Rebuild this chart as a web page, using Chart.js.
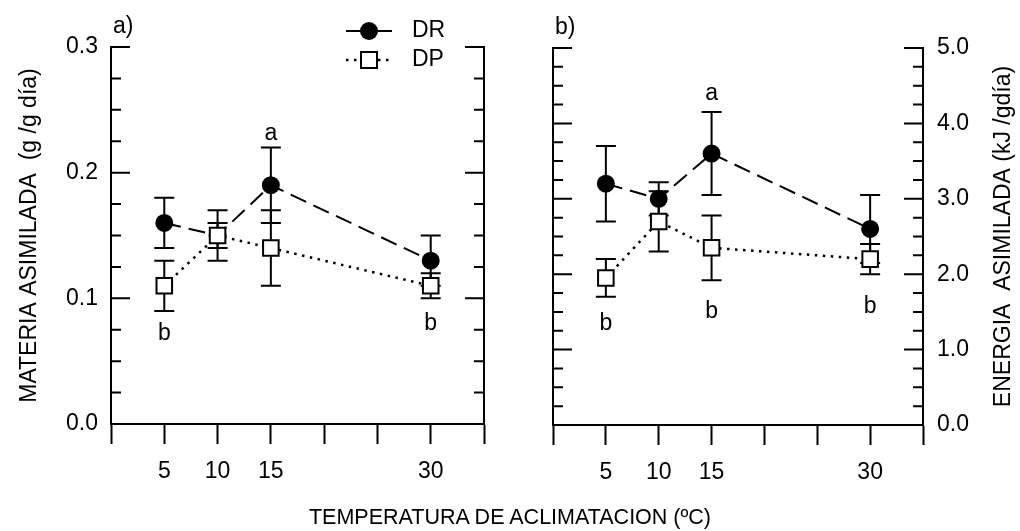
<!DOCTYPE html>
<html><head><meta charset="utf-8">
<script src="https://cdn.jsdelivr.net/npm/chart.js@4.4.1/dist/chart.umd.min.js"></script>
<style>
html,body{margin:0;padding:0;background:#fff;}
#wrap{position:relative;width:1020px;height:531px;overflow:hidden;background:#fff;}
#ca{position:absolute;left:0;top:0;}
#cb{position:absolute;left:500px;top:0;}
#xt{position:absolute;left:0;top:507px;width:1020px;text-align:center;font-family:"Liberation Sans",Arial,sans-serif;font-size:21.5px;line-height:21px;color:#000;}
</style></head><body>
<div id="wrap">
<canvas id="ca" width="520" height="531"></canvas>
<canvas id="cb" width="520" height="531"></canvas>
<div id="xt">TEMPERATURA DE ACLIMATACION (ºC)</div>
</div>
<script>
// ---- data ----
const temps = [5, 10, 15, 30];
const xTickLabels = [5, 10, 15, 30];
const seriesNames = ['DR', 'DP'];

// panel a) materia asimilada (g /g día)
const materiaDR = [0.16, 0.15, 0.19, 0.13];
const materiaDRerr = [0.02, 0.01, 0.03, 0.02];
const materiaDP = [0.11, 0.15, 0.14, 0.11];
const materiaDPerr = [0.02, 0.02, 0.03, 0.01];
const materiaTicks = ['0.0', '0.1', '0.2', '0.3'];
const materiaLetters = [{t: 'a', x: 15, y: 0.231}, {t: 'b', x: 5, y: 0.072}, {t: 'b', x: 30, y: 0.080}];

// panel b) energía asimilada (kJ /gdía)
const energiaDR = [3.2, 3.0, 3.6, 2.6];
const energiaDRerr = [0.5, 0.22, 0.55, 0.45];
const energiaDP = [1.95, 2.7, 2.35, 2.2];
const energiaDPerr = [0.25, 0.4, 0.43, 0.2];
const energiaTicks = ['0.0', '1.0', '2.0', '3.0', '4.0', '5.0'];
const energiaLetters = [{t: 'a', x: 15, y: 4.4}, {t: 'b', x: 5, y: 1.35}, {t: 'b', x: 15, y: 1.5}, {t: 'b', x: 30, y: 1.57}];

// ---- helpers ----
const FONT = '"Liberation Sans", Arial, sans-serif';
const fontSpec = s => ({family: FONT, size: s, lineHeight: 1.2});
function isMajor(v, labels) {
  const s = v.toFixed(1);
  return labels.includes(s) && Math.abs(v - Number(s)) < 1e-6;
}
function majorLabel(labels) {
  return v => isMajor(v, labels) ? v.toFixed(1) : '';
}

const errorBars = {
  id: 'errorBars',
  beforeDatasetsDraw(chart) {
    const ctx = chart.ctx, xs = chart.scales.x, ys = chart.scales.y;
    ctx.save();
    ctx.strokeStyle = '#000';
    ctx.lineWidth = 2;
    chart.data.datasets.forEach(ds => {
      ds.data.forEach((p, i) => {
        const e = ds.errors[i];
        const px = xs.getPixelForValue(p.x);
        const y1 = ys.getPixelForValue(p.y + e), y2 = ys.getPixelForValue(p.y - e);
        ctx.beginPath();
        ctx.moveTo(px, y1); ctx.lineTo(px, y2);
        ctx.moveTo(px - 10, y1); ctx.lineTo(px + 10, y1);
        ctx.moveTo(px - 10, y2); ctx.lineTo(px + 10, y2);
        ctx.stroke();
      });
    });
    ctx.restore();
  }
};

const innerTicks = {
  id: 'innerTicks',
  afterDraw(chart, args, opts) {
    const ctx = chart.ctx, ca = chart.chartArea, s = chart.scales.y;
    ctx.save();
    ctx.strokeStyle = '#000';
    ctx.lineWidth = 2;
    s.ticks.forEach(t => {
      const py = s.getPixelForValue(t.value);
      const len = isMajor(t.value, opts.labels) ? 19 : 10;
      ctx.beginPath();
      ctx.moveTo(ca.left, py); ctx.lineTo(ca.left + len, py);
      ctx.moveTo(ca.right, py); ctx.lineTo(ca.right - len, py);
      ctx.stroke();
    });
    ctx.restore();
  }
};

function drawCircle(ctx, x, y) {
  ctx.beginPath(); ctx.arc(x, y, 9, 0, Math.PI * 2); ctx.fillStyle = '#000'; ctx.fill();
}
function drawSquare(ctx, x, y) {
  ctx.fillStyle = '#fff'; ctx.fillRect(x - 8, y - 8, 16, 16);
  ctx.lineWidth = 2; ctx.strokeStyle = '#000'; ctx.strokeRect(x - 8, y - 8, 16, 16);
}

const annot = {
  id: 'annot',
  afterDatasetsDraw(chart, args, opts) {
    const ctx = chart.ctx, xs = chart.scales.x, ys = chart.scales.y, ca = chart.chartArea;
    ctx.save();
    ctx.fillStyle = '#000';
    ctx.font = '23px ' + FONT;
    ctx.textAlign = 'center';
    ctx.textBaseline = 'middle';
    opts.letters.forEach(l => ctx.fillText(l.t, xs.getPixelForValue(l.x), ys.getPixelForValue(l.y)));
    ctx.textAlign = 'left';
    ctx.fillText(opts.panel, ca.left + 2, ca.top - 20);
    if (opts.legend) {
      const L = opts.legend;
      // DR row
      ctx.strokeStyle = '#000'; ctx.lineWidth = 2; ctx.setLineDash([]);
      ctx.beginPath(); ctx.moveTo(L.x1, L.y1); ctx.lineTo(L.x2, L.y1); ctx.stroke();
      drawCircle(ctx, L.xm, L.y1);
      ctx.fillStyle = '#000';
      ctx.fillText(seriesNames[0], L.xt, L.y1);
      // DP row
      ctx.setLineDash([2.5, 5.5]); ctx.lineWidth = 2.5;
      ctx.beginPath(); ctx.moveTo(L.x1, L.y2); ctx.lineTo(L.x2, L.y2); ctx.stroke();
      ctx.setLineDash([]);
      drawSquare(ctx, L.xm, L.y2);
      ctx.fillStyle = '#000';
      ctx.fillText(seriesNames[1], L.xt, L.y2);
    }
    if (opts.rightTitle) {
      ctx.font = '23px ' + FONT;
      ctx.textAlign = 'center';
      ctx.translate(opts.rightTitle.x, (ca.top + ca.bottom) / 2);
      ctx.rotate(-Math.PI / 2);
      ctx.fillText(opts.rightTitle.text, 0, 0);
    }
    ctx.restore();
  }
};

function makeChart(id, c) {
  const mk = (vals) => temps.map((t, i) => ({x: t, y: vals[i]}));
  return new Chart(document.getElementById(id), {
    type: 'scatter',
    data: {
      datasets: [
        {label: seriesNames[1], data: mk(c.dp), errors: c.dpErr, showLine: true, order: 0, clip: false,
         borderColor: '#000', borderWidth: 2.5, borderDash: [2.5, 5.5], pointStyle: 'rect', pointRadius: 11,
         pointBackgroundColor: '#fff', pointBorderColor: '#000', pointBorderWidth: 2},
        {label: seriesNames[0], data: mk(c.dr), errors: c.drErr, showLine: true, order: 1, clip: false,
         borderColor: '#000', borderWidth: 2, borderDash: [17, 8], pointStyle: 'circle', pointRadius: 8,
         pointBackgroundColor: '#000', pointBorderColor: '#000', pointBorderWidth: 2}
      ]
    },
    options: {
      responsive: false, animation: false, events: [],
      layout: {padding: {top: c.top, left: 0, right: 0, bottom: 0}},
      plugins: {
        legend: {display: false}, tooltip: {enabled: false},
        innerTicks: {labels: c.ticks},
        annot: {letters: c.letters, panel: c.panel, legend: c.legend, rightTitle: c.rightTitle}
      },
      scales: {
        x: {type: 'linear', position: 'bottom', min: 0, max: 35,
            afterFit(s) { s.height = c.xh; },
            ticks: {stepSize: 5, autoSkip: false, maxRotation: 0, padding: 14, color: '#000', font: fontSpec(23),
                    callback: v => xTickLabels.includes(v) ? String(v) : ''},
            grid: {display: true, drawOnChartArea: false, drawTicks: true, tickLength: 20, tickWidth: 2, tickColor: '#000', color: '#000'},
            border: {display: true, color: '#000', width: 2}},
        y: {type: 'linear', position: 'left', min: 0, max: c.ymax,
            afterFit(s) { s.width = c.lw; },
            ticks: {display: c.leftLabels, stepSize: c.step, autoSkip: false, padding: 13, color: '#000', font: fontSpec(23),
                    callback: majorLabel(c.ticks)},
            grid: {display: false, drawTicks: false, tickLength: 0},
            border: {display: true, color: '#000', width: 2},
            title: {display: !!c.leftTitle, text: c.leftTitle || '', color: '#000', font: fontSpec(23), padding: {top: 16, bottom: 0}}},
        yr: {type: 'linear', position: 'right', min: 0, max: c.ymax,
            afterFit(s) { s.width = c.rw; },
            ticks: {display: c.rightLabels, stepSize: c.step, autoSkip: false, padding: 14, color: '#000', font: fontSpec(23),
                    callback: majorLabel(c.ticks)},
            grid: {display: false, drawTicks: false, tickLength: 0},
            border: {display: true, color: '#000', width: 2}}
      }
    },
    plugins: [errorBars, innerTicks, annot]
  });
}

makeChart('ca', {
  dr: materiaDR, drErr: materiaDRerr, dp: materiaDP, dpErr: materiaDPerr,
  ticks: materiaTicks, letters: materiaLetters, ymax: 0.3, step: 0.025,
  top: 47, xh: 107, lw: 111, rw: 36, leftLabels: true, rightLabels: false,
  leftTitle: 'MATERIA ASIMILADA  (g /g día)', panel: 'a)',
  legend: {x1: 346, x2: 392, xm: 369, xt: 412, y1: 31, y2: 60}
});
makeChart('cb', {
  dr: energiaDR, drErr: energiaDRerr, dp: energiaDP, dpErr: energiaDPerr,
  ticks: energiaTicks, letters: energiaLetters, ymax: 5, step: 0.25,
  top: 48, xh: 106, lw: 53, rw: 97, leftLabels: false, rightLabels: true,
  panel: 'b)', rightTitle: {x: 504, text: 'ENERGIA  ASIMILADA (kJ /gdía)'}
});
</script>
</body></html>
